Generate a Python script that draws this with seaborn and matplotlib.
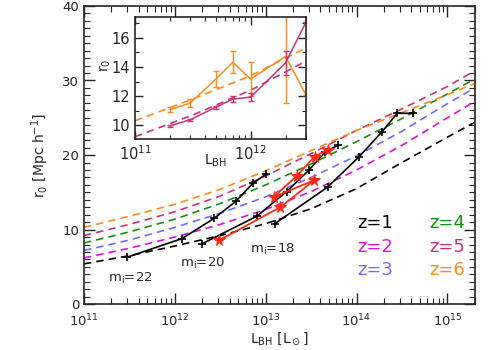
import numpy as np
import pandas as pd
import matplotlib
matplotlib.use("Agg")
import matplotlib.pyplot as plt
import seaborn as sns
from matplotlib.ticker import MultipleLocator, LogLocator, NullFormatter

# --- model curves r0(L_BH) for each redshift (dashed) ---
model_L = [1e11, 10**11.5, 1e12, 10**12.5, 1e13, 10**13.5, 1e14, 10**14.5, 1e15, 2e15]
r0_z1 = [5.4, 6.5, 7.8, 9.2, 10.8, 12.8, 15.5, 19.0, 22.4, 24.4]
r0_z2 = [6.2, 7.5, 9.0, 10.7, 12.7, 15.1, 18.0, 21.3, 25.0, 27.2]
r0_z3 = [7.2, 8.6, 10.3, 12.2, 14.4, 17.0, 19.9, 23.2, 26.9, 29.0]
r0_z4 = [8.2, 9.7, 11.4, 13.5, 16.0, 18.8, 21.8, 24.9, 28.2, 30.2]
r0_z5 = [9.2, 10.7, 12.4, 14.5, 17.2, 20.2, 23.3, 26.2, 29.2, 31.3]
r0_z6 = [10.3, 11.8, 13.4, 15.4, 17.9, 20.6, 23.3, 25.7, 28.1, 29.6]

z_labels = ["z=1", "z=2", "z=3", "z=4", "z=5", "z=6"]
z_colors = ["#000000", "#dd10dd", "#6f6fff", "#149014", "#cc3377", "#ff8c1a"]

# --- survey limits (black, +) ---
mi22_L = [3e11, 1.2e12, 2.7e12, 4.7e12, 7.2e12, 1e13]
mi22_r0 = [6.3, 8.8, 11.5, 13.8, 16.2, 17.4]
mi20_L = [2e12, 8e12, 1.7e13, 3e13, 4.5e13, 6.2e13]
mi20_r0 = [8.1, 11.8, 15.1, 18.0, 20.4, 21.3]
mi18_L = [1.26e13, 4.8e13, 1.07e14, 1.9e14, 2.8e14, 4.2e14]
mi18_r0 = [10.8, 15.7, 19.8, 23.1, 25.6, 25.6]

# --- red points (drawn as one path) ---
red_L = [3.1e12, 1.45e13, 3.4e13, 1.23e13, 2.2e13, 3.45e13, 4.8e13]
red_r0 = [8.6, 13.0, 16.6, 14.4, 17.2, 19.8, 20.7]

# --- inset: measurements with errors ---
ins_L = [2e11, 3e11, 5e11, 7e11, 1e12, 2e12, 3e12]
ins_orange = [11.06, 11.52, 13.17, 14.32, 13.17, 14.73, 12.09]
ins_orange_err = [0.16, 0.28, 0.52, 0.75, 1.2, 3.2, 0.0]
ins_pink = [9.95, 10.37, 11.24, 11.79, 11.93, 14.28, 17.07]
ins_pink_err = [0.08, 0.08, 0.1, 0.18, 0.3, 0.8, 0.0]

sns.set_style("ticks")
plt.rcParams["font.family"] = ["DejaVu Sans"]
plt.rcParams["mathtext.default"] = "regular"

fig = plt.figure(figsize=(4.91, 3.5), dpi=100)
ax = fig.add_axes([0.171, 0.131, 0.796, 0.852])
ax.set_xscale("log")

dash = (0, (4.5, 3.0))
for r0, c in zip([r0_z1, r0_z2, r0_z3, r0_z4, r0_z5, r0_z6], z_colors):
    ax.plot(model_L, r0, color=c, lw=1.2, linestyle=dash, zorder=2)

for L, r in [(mi22_L, mi22_r0), (mi20_L, mi20_r0), (mi18_L, mi18_r0)]:
    sns.lineplot(x=L, y=r, ax=ax, color="black", lw=1.2, marker="+",
                 markersize=5.5, markeredgewidth=1.2, markeredgecolor="black",
                 sort=False, estimator=None, zorder=3)

sns.lineplot(x=red_L, y=red_r0, ax=ax, color="#ff2a10", lw=1.3, marker="*",
             markersize=8.5, markeredgecolor="#ff2a10", sort=False,
             estimator=None, zorder=4)

ax.set_xlim(1e11, 2e15)
ax.set_ylim(0, 40)
ax.yaxis.set_major_locator(MultipleLocator(10))
ax.yaxis.set_minor_locator(MultipleLocator(1))
ax.xaxis.set_major_locator(LogLocator(base=10, numticks=10))
ax.xaxis.set_minor_locator(LogLocator(base=10, subs=np.arange(2, 10), numticks=20))
ax.xaxis.set_minor_formatter(NullFormatter())
ax.tick_params(which="both", direction="in", top=True, right=True, labelsize=9.5)
ax.tick_params(axis="x", which="major", pad=6)
ax.tick_params(which="major", length=8, width=1)
ax.tick_params(which="minor", length=4, width=0.8)
for s in ax.spines.values():
    s.set_linewidth(1.2)
ax.set_xlabel(r"L$_{\rm BH}$ [L$_\odot$]", fontsize=10, labelpad=1)
ax.set_ylabel(r"r$_0$ [Mpc h$^{-1}$]", fontsize=10, labelpad=8)

ax.text(10**11.51, 3.4, r"m$_i$=22", fontsize=9.5, ha="center", va="center")
ax.text(10**12.30, 5.4, r"m$_i$=20", fontsize=9.5, ha="center", va="center")
ax.text(10**13.07, 7.3, r"m$_i$=18", fontsize=9.5, ha="center", va="center")

leg_x = [10**14.2, 10**14.2, 10**14.2, 10**15.0, 10**15.0, 10**15.0]
leg_y = [10.9, 7.7, 4.6, 10.9, 7.7, 4.6]
for lx, ly, t, c in zip(leg_x, leg_y, z_labels, z_colors):
    ax.text(lx, ly, t, color=c, fontsize=13, ha="center", va="center")

# --- inset ---
ax_in = fig.add_axes([0.275, 0.603, 0.348, 0.349])
ax_in.set_xscale("log")
ax_in.plot(model_L, r0_z6, color=z_colors[5], lw=1.2, linestyle=dash)
ax_in.plot(model_L, r0_z5, color=z_colors[4], lw=1.2, linestyle=dash)
sns.lineplot(x=ins_L, y=ins_orange, ax=ax_in, color="#ff8c1a", lw=1.1,
             estimator=None, sort=False)
ax_in.errorbar(ins_L, ins_orange, yerr=ins_orange_err, fmt="none",
               ecolor="#ff8c1a", elinewidth=1, capsize=2.5)
sns.lineplot(x=ins_L, y=ins_pink, ax=ax_in, color="#cc3377", lw=1.1,
             estimator=None, sort=False)
ax_in.errorbar(ins_L, ins_pink, yerr=ins_pink_err, fmt="none",
               ecolor="#cc3377", elinewidth=1, capsize=2.5)
ax_in.set_xlim(1e11, 3e12)
ax_in.set_ylim(9.05, 17.45)
ax_in.yaxis.set_major_locator(MultipleLocator(2))
ax_in.yaxis.set_minor_locator(MultipleLocator(1))
ax_in.xaxis.set_major_locator(LogLocator(base=10, numticks=10))
ax_in.xaxis.set_minor_locator(LogLocator(base=10, subs=np.arange(2, 10), numticks=20))
ax_in.xaxis.set_minor_formatter(NullFormatter())
ax_in.tick_params(which="both", direction="in", top=True, right=True, labelsize=10.5)
ax_in.tick_params(which="major", length=6, width=1)
ax_in.tick_params(which="minor", length=3, width=0.8)
for s in ax_in.spines.values():
    s.set_linewidth(1.2)
ax_in.set_xlabel(r"L$_{\rm BH}$", fontsize=10)
ax_in.xaxis.set_label_coords(0.47, -0.11)
ax_in.set_ylabel(r"r$_0$", fontsize=10)
ax_in.yaxis.set_label_coords(-0.13, 0.6)

fig.savefig("out.png", dpi=100)
